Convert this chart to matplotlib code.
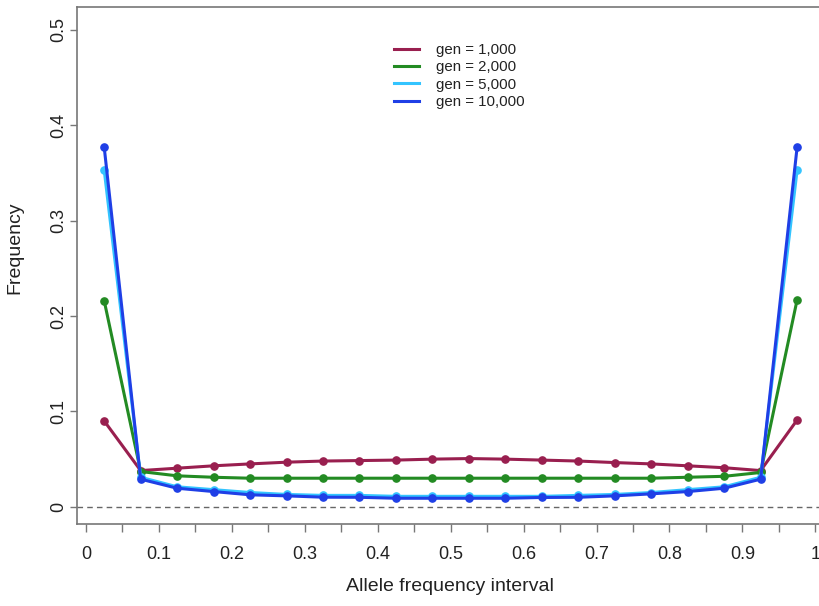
import matplotlib
matplotlib.use("Agg")
import matplotlib.pyplot as plt
from matplotlib.lines import Line2D

plt.rcParams['font.family'] = ['Liberation Sans', 'DejaVu Sans']

# Midpoints of allele-frequency intervals
intervals = [0.025, 0.075, 0.125, 0.175, 0.225, 0.275, 0.325, 0.375, 0.425, 0.475,
             0.525, 0.575, 0.625, 0.675, 0.725, 0.775, 0.825, 0.875, 0.925, 0.975]

gen_1000 = [0.090, 0.038, 0.0405, 0.043, 0.045, 0.0468, 0.048, 0.0485, 0.049, 0.050,
            0.0506, 0.050, 0.049, 0.048, 0.0464, 0.045, 0.043, 0.041, 0.038, 0.091]
gen_2000 = [0.216, 0.037, 0.0325, 0.031, 0.030, 0.030, 0.030, 0.030, 0.030, 0.030,
            0.030, 0.030, 0.030, 0.030, 0.030, 0.030, 0.031, 0.032, 0.036, 0.217]
gen_5000 = [0.353, 0.031, 0.021, 0.018, 0.015, 0.013, 0.012, 0.012, 0.011, 0.011,
            0.011, 0.011, 0.011, 0.012, 0.013, 0.015, 0.018, 0.021, 0.031, 0.353]
gen_10000 = [0.377, 0.029, 0.0195, 0.016, 0.0126, 0.0115, 0.0101, 0.010, 0.009, 0.009,
             0.009, 0.009, 0.0098, 0.010, 0.0115, 0.0136, 0.016, 0.0195, 0.029, 0.377]

labels = ["gen = 1,000", "gen = 2,000", "gen = 5,000", "gen = 10,000"]
colors = ["#991f4f", "#238b23", "#33c4ff", "#1f3fe6"]
series = [gen_1000, gen_2000, gen_5000, gen_10000]

x_ticks = [0, 0.05, 0.1, 0.15, 0.2, 0.25, 0.3, 0.35, 0.4, 0.45, 0.5,
           0.55, 0.6, 0.65, 0.7, 0.75, 0.8, 0.85, 0.9, 0.95, 1]
x_labels = ["0", "", "0.1", "", "0.2", "", "0.3", "", "0.4", "", "0.5",
            "", "0.6", "", "0.7", "", "0.8", "", "0.9", "", "1"]
y_ticks = [0, 0.1, 0.2, 0.3, 0.4, 0.5]
y_labels = ["0", "0.1", "0.2", "0.3", "0.4", "0.5"]

W, H = 820, 606
fig = plt.figure(figsize=(W / 100, H / 100), dpi=100)
left_px, right_px, top_px, bottom_px = 77, 823, 7, 524
ax = fig.add_axes([left_px / W, 1 - bottom_px / H,
                   (right_px - left_px) / W, (bottom_px - top_px) / H])

ax.axhline(0, color="#666666", lw=1.0, ls=(0, (4, 3)), zorder=1)

for vals, col, lab in zip(series, colors, labels):
    ax.plot(intervals, vals, color=col, lw=2.2, marker="o", ms=5.2,
            label=lab, zorder=3)

ax.set_xlim(-0.0123, 1.0105)
ax.set_ylim(-0.018, 0.524)

ax.set_xticks(x_ticks)
ax.set_xticklabels(x_labels)
ax.set_yticks(y_ticks)
ax.set_yticklabels(y_labels, rotation=90, va="center")

for s in ax.spines.values():
    s.set_color("#777777")
    s.set_linewidth(1.2)

ax.tick_params(axis="x", direction="out", length=6, width=1, color="#777777",
               labelsize=13, pad=10, labelcolor="#222222")
ax.tick_params(axis="y", direction="out", length=5, width=1, color="#777777",
               labelsize=13, pad=2, labelcolor="#222222")

ax.set_xlabel("Allele frequency interval", fontsize=14, color="#222222")
ax.xaxis.set_label_coords(0.5, -0.105)
ax.set_ylabel("Frequency", fontsize=14, color="#222222")
ax.yaxis.set_label_coords(-0.072, 0.535)

handles = [Line2D([], [], color=c, lw=2.2) for c in colors]
leg = ax.legend(handles, labels, loc="upper left",
                bbox_to_anchor=((388 - left_px) / (right_px - left_px),
                                (bottom_px - 37) / (bottom_px - top_px)),
                frameon=False, fontsize=10.8, handlelength=1.7, handletextpad=1.1,
                labelspacing=0.22, borderaxespad=0)
for t in leg.get_texts():
    t.set_color("#222222")

fig.savefig("out.png", dpi=100)
